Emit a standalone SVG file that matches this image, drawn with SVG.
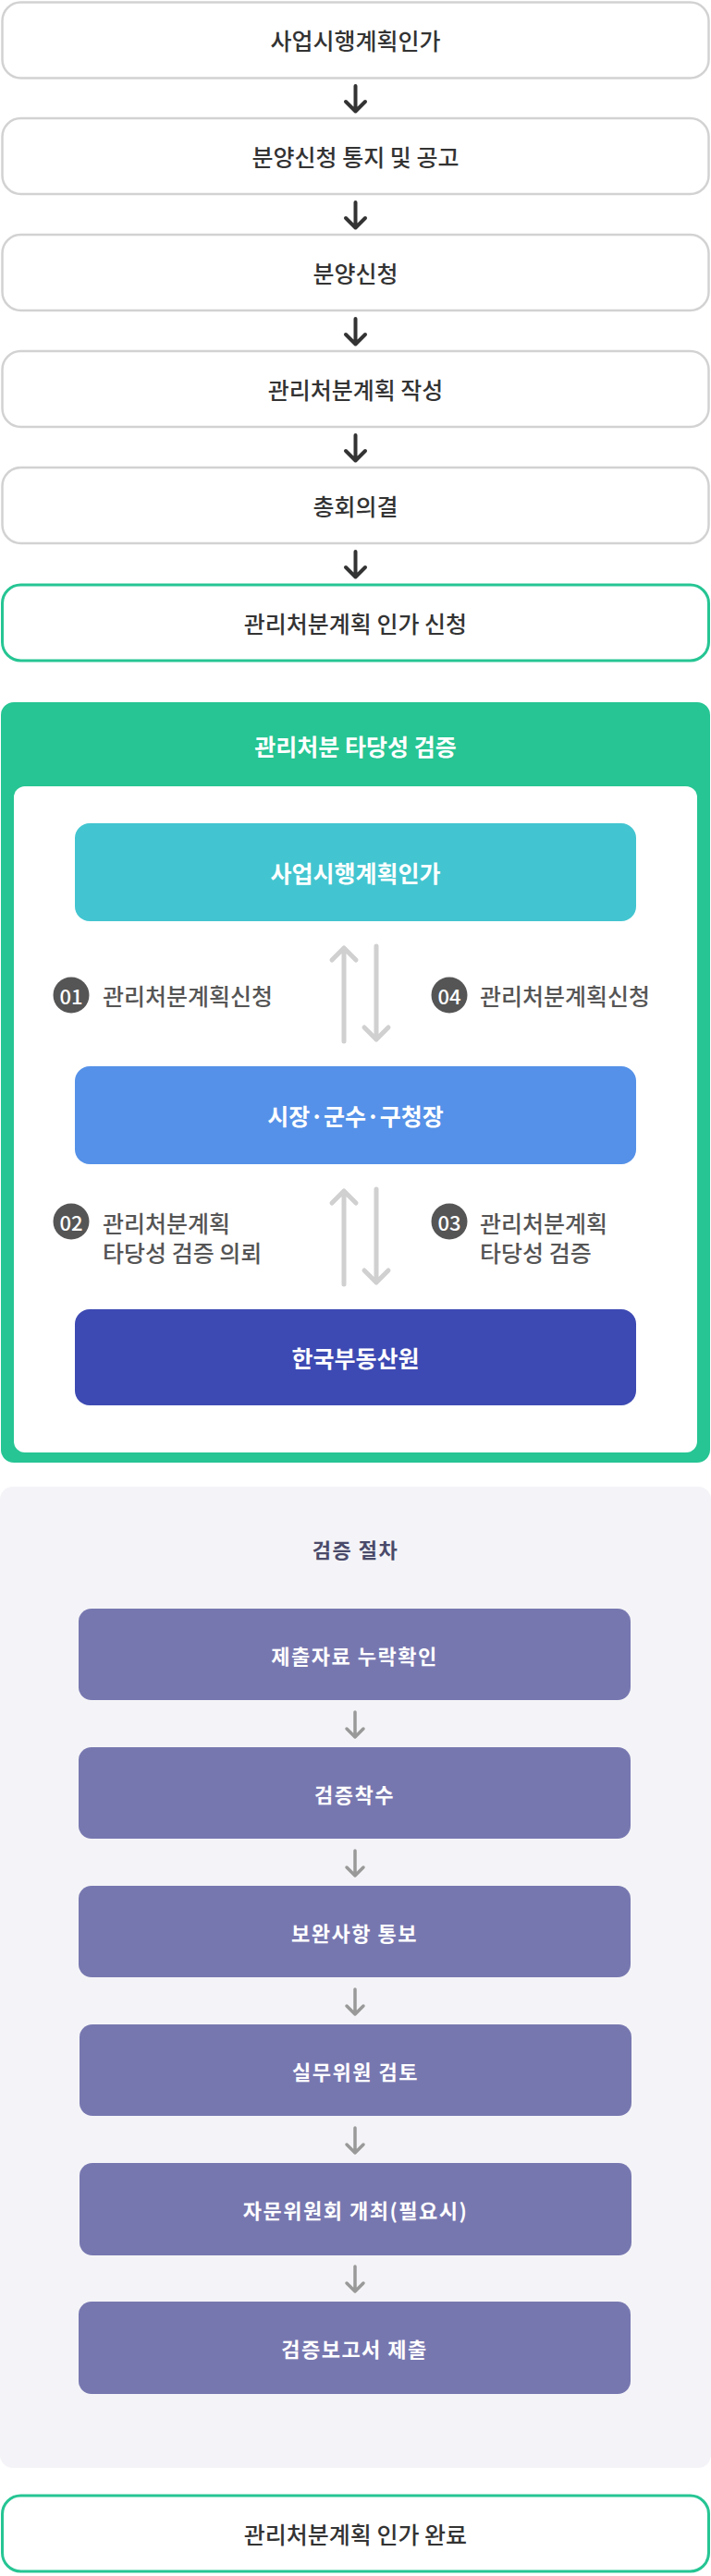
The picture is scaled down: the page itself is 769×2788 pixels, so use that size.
<svg xmlns="http://www.w3.org/2000/svg" width="769" height="2788" viewBox="0 0 769 2788">
<style>
text{font-family:"Noto Sans CJK KR","Noto Sans",sans-serif;text-anchor:middle;dominant-baseline:central}
.b{fill:#fff;stroke:#d2d2d2;stroke-width:2.5}
.g{fill:#fff;stroke:#26c593;stroke-width:3}
.t{font-size:25px;font-weight:500;fill:#333}
.w{font-size:25px;font-weight:700;fill:#fff}
.p{fill:#7777b0}
.pt{font-size:22px;font-weight:700;fill:#fff;letter-spacing:1.5px}
.lb{font-size:25px;font-weight:500;fill:#555;text-anchor:start}
.c{fill:#555}
.ct{font-size:22px;font-weight:500;fill:#fff}
.a1{fill:none;stroke:#333;stroke-width:4;stroke-linecap:round;stroke-linejoin:round}
.a2{fill:none;stroke:#d0d0d0;stroke-width:5;stroke-linecap:round;stroke-linejoin:round}
.a3{fill:none;stroke:#999;stroke-width:3.5;stroke-linecap:round;stroke-linejoin:round}
</style>
<g id="n1"><rect class="b" x="2.5" y="2.5" width="764" height="82" rx="20"/><text class="t" x="384.5" y="43">사업시행계획인가</text></g>
<g id="n2"><rect class="b" x="2.5" y="128" width="764" height="82" rx="20"/><text class="t" x="384.5" y="169">분양신청 통지 및 공고</text></g>
<g id="n3"><rect class="b" x="2.5" y="254" width="764" height="82" rx="20"/><text class="t" x="384.5" y="295">분양신청</text></g>
<g id="n4"><rect class="b" x="2.5" y="380" width="764" height="82" rx="20"/><text class="t" x="384.5" y="421">관리처분계획 작성</text></g>
<g id="n5"><rect class="b" x="2.5" y="506" width="764" height="82" rx="20"/><text class="t" x="384.5" y="547">총회의결</text></g>
<g id="n6"><rect class="g" x="2.5" y="633" width="764" height="82" rx="20"/><text class="t" x="384.5" y="674">관리처분계획 인가 신청</text></g>

<g id="verify">
<rect x="1" y="760" width="767" height="823" rx="14" fill="#26c593"/>
<text class="w" x="384.5" y="807">관리처분 타당성 검증</text>
<rect x="15" y="851" width="739" height="721" rx="12" fill="#fff"/>
</g>
<g id="v1"><rect x="81" y="891" width="607" height="106" rx="16" fill="#42c5d0"/><text class="w" x="384.5" y="944">사업시행계획인가</text></g>
<g id="v2"><rect x="81" y="1154" width="607" height="106" rx="16" fill="#5591e8"/><text class="w" x="384.5" y="1207">시장·군수·구청장</text></g>
<g id="v3"><rect x="81" y="1417" width="607" height="104" rx="16" fill="#3d4ab3"/><text class="w" x="384.5" y="1469">한국부동산원</text></g>
<g id="labels">
<circle class="c" cx="77" cy="1077" r="19.5"/><text class="ct" x="77" y="1077">01</text><text class="lb" x="111" y="1077">관리처분계획신청</text>
<circle class="c" cx="486" cy="1077" r="19.5"/><text class="ct" x="486" y="1077">04</text><text class="lb" x="519" y="1077">관리처분계획신청</text>
<circle class="c" cx="77" cy="1322" r="19.5"/><text class="ct" x="77" y="1322">02</text><text class="lb" x="111" y="1323">관리처분계획</text><text class="lb" x="111" y="1355">타당성 검증 의뢰</text>
<circle class="c" cx="486" cy="1322" r="19.5"/><text class="ct" x="486" y="1322">03</text><text class="lb" x="519" y="1323">관리처분계획</text><text class="lb" x="519" y="1355">타당성 검증</text>
</g>

<g id="proc"><rect x="0" y="1609" width="769" height="1062" rx="14" fill="#f4f4f8"/><text x="384.5" y="1676" style="font-size:22px;font-weight:700;fill:#4a4a6a;letter-spacing:1.5px">검증 절차</text></g>
<g id="p1"><rect class="p" x="85" y="1741" width="597" height="99" rx="14"/><text class="pt" x="383.5" y="1791">제출자료 누락확인</text></g>
<g id="p2"><rect class="p" x="85" y="1891" width="597" height="99" rx="14"/><text class="pt" x="383.5" y="1941">검증착수</text></g>
<g id="p3"><rect class="p" x="85" y="2041" width="597" height="99" rx="14"/><text class="pt" x="383.5" y="2091">보완사항 통보</text></g>
<g id="p4"><rect class="p" x="86" y="2191" width="597" height="99" rx="14"/><text class="pt" x="384.5" y="2241">실무위원 검토</text></g>
<g id="p5"><rect class="p" x="86" y="2341" width="597" height="100" rx="14"/><text class="pt" x="384.5" y="2391">자문위원회 개최(필요시)</text></g>
<g id="p6"><rect class="p" x="85" y="2491" width="597" height="100" rx="14"/><text class="pt" x="383.5" y="2541">검증보고서 제출</text></g>
<g id="end"><rect class="g" x="2.5" y="2701" width="764" height="82" rx="20"/><text class="t" x="384.5" y="2742">관리처분계획 인가 완료</text></g>

<g id="connectors">
<path class="a1" d="M384.5 93v27M374 110l10.5 10.5L395 110"/>
<path class="a1" d="M384.5 219v27M374 236l10.5 10.5L395 236"/>
<path class="a1" d="M384.5 345v27M374 362l10.5 10.5L395 362"/>
<path class="a1" d="M384.5 471v27M374 488l10.5 10.5L395 488"/>
<path class="a1" d="M384.5 597v27M374 614l10.5 10.5L395 614"/>
<path class="a2" d="M372 1127V1026M359 1039l13-13l13 13"/>
<path class="a2" d="M407 1024V1125M394 1112l13 13l13-13"/>
<path class="a2" d="M372 1390V1289M359 1302l13-13l13 13"/>
<path class="a2" d="M407 1287V1388M394 1375l13 13l13-13"/>
<path class="a3" d="M384 1853v27M375 1871l9 9l9-9"/>
<path class="a3" d="M384 2003v27M375 2021l9 9l9-9"/>
<path class="a3" d="M384 2153v27M375 2171l9 9l9-9"/>
<path class="a3" d="M384 2303v27M375 2321l9 9l9-9"/>
<path class="a3" d="M384 2453v27M375 2471l9 9l9-9"/>
</g>
</svg>
